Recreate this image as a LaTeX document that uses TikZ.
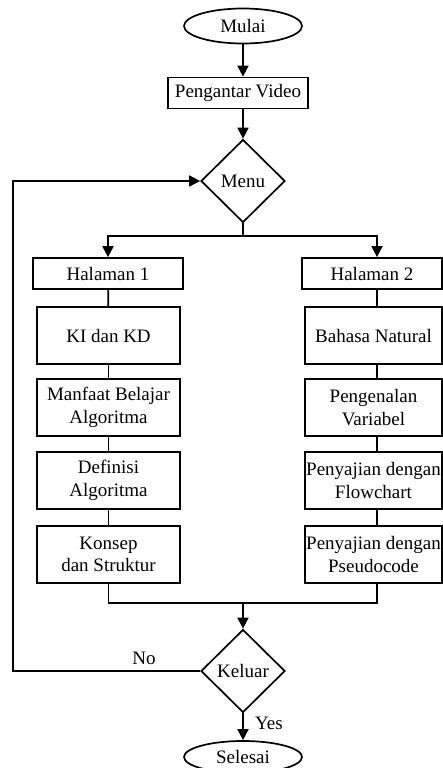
\documentclass[tikz,border=0pt]{standalone}
\usepackage{fontspec}
\setmainfont{Liberation Serif}
\usetikzlibrary{shapes.geometric,arrows.meta}
\begin{document}
\begin{tikzpicture}[x=1pt,y=1pt,
  every node/.style={font=\fontsize{19}{22.5}\selectfont, align=center, inner sep=0.5pt},
  term/.style={draw, ellipse, line width=1.7pt, minimum width=118pt, minimum height=35pt},
  proc/.style={draw, rectangle, line width=1.7pt, minimum height=31pt},
  sbox/.style={draw, rectangle, line width=1.7pt, minimum width=143pt, minimum height=57pt},
  rbox/.style={draw, rectangle, line width=1.7pt, minimum width=137pt, minimum height=57pt},
  dec/.style={draw, diamond, line width=1.7pt, minimum width=84pt, minimum height=83pt, inner sep=0pt},
  line/.style={line width=1.7pt},
  arr/.style={line width=1.7pt, -{Triangle[width=11pt,length=11pt]}},
  lbl/.style={draw=none, inner sep=0pt}]
\useasboundingbox (0,0) rectangle (443,-768);
\node[term] (mulai) at (243,-26) {Mulai};
\node[proc, minimum width=140pt] (peng) at (238,-93) {Pengantar Video};
\node[dec] (menu) at (243,-181) {Menu};
\node[proc, minimum width=150pt] (h1) at (108,-273.5) {Halaman 1};
\node[proc, minimum width=140pt] (h2) at (372,-273.5) {Halaman 2};
\node[sbox] (ki) at (108.5,-335.5) {KI dan KD};
\node[sbox] (manf) at (108.5,-407.5) {Manfaat Belajar\\Algoritma};
\node[sbox] (def) at (108.5,-480.5) {Definisi\\Algoritma};
\node[sbox] (kons) at (108.5,-554.5) {Konsep\\dan Struktur};
\node[rbox] (bn) at (373.5,-335.5) {Bahasa Natural};
\node[rbox] (var) at (373.5,-407.5) {Pengenalan\\Variabel};
\node[rbox] (flow) at (373.5,-480.5) {Penyajian dengan\\Flowchart};
\node[rbox] (pseu) at (373.5,-554.5) {Penyajian dengan\\Pseudocode};
\node[dec] (kel) at (243,-671) {Keluar};
\node[term, minimum height=32pt] (sel) at (243,-757) {Selesai};
\coordinate (colR) at (377,0);
\coordinate (split) at (243,-236);
\coordinate (join) at (243,-603);
\coordinate (loopL) at (13,-671);
\node[lbl] (no) at (144,-658) {No};
\node[lbl] (yes) at (269,-723) {Yes};
\draw[arr] (mulai.south) -- (mulai.south |- peng.north);
\draw[arr] (peng.south -| menu.north) -- (menu.north);
\draw[line] (menu.south) -- (split);
\draw[arr] (split) -| (h1.north);
\draw[arr] (split) -| (h2.north -| colR);
\draw[line] (h1) -- (ki);
\draw[line] (ki) -- (manf);
\draw[line] (manf) -- (def);
\draw[line] (def) -- (kons);
\draw[line] (h2.south -| colR) -- (bn.north -| colR);
\draw[line] (bn.south -| colR) -- (var.north -| colR);
\draw[line] (var.south -| colR) -- (flow.north -| colR);
\draw[line] (flow.south -| colR) -- (pseu.north -| colR);
\draw[line] (kons.south) |- (join);
\draw[line] (pseu.south -| colR) |- (join);
\draw[arr] (join) -- (kel.north);
\draw[arr] (kel.west) -- (loopL) |- (menu.west);
\draw[arr] (kel.south) -- (sel.north);
\end{tikzpicture}
\end{document}
